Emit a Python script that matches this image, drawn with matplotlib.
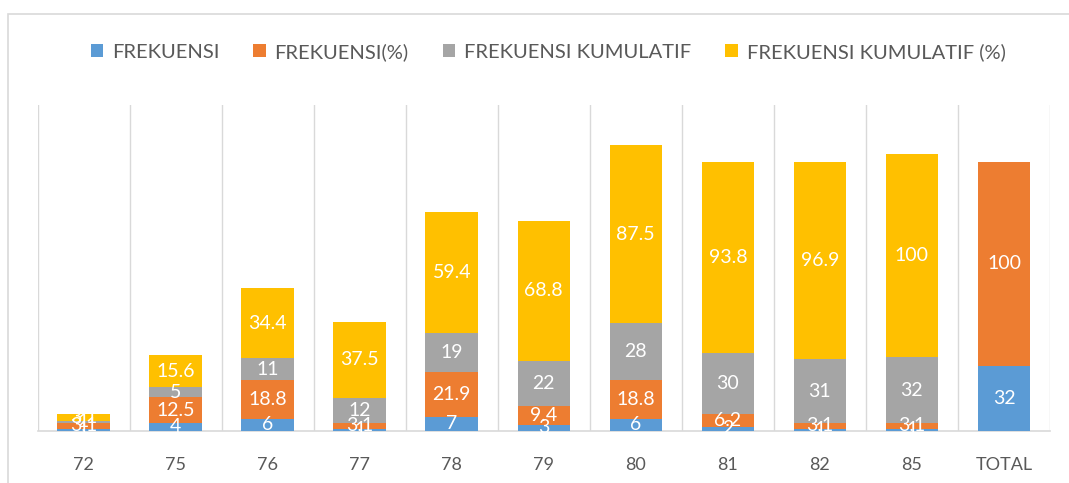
import matplotlib
matplotlib.use("Agg")
import matplotlib.pyplot as plt
import numpy as np

categories = ["72", "75", "76", "77", "78", "79", "80", "81", "82", "85", "TOTAL"]
frekuensi = [1, 4, 6, 1, 7, 3, 6, 2, 1, 1, 32]
frekuensi_pct = [3.1, 12.5, 18.8, 3.1, 21.9, 9.4, 18.8, 6.2, 3.1, 3.1, 100]
kumulatif = [1, 5, 11, 12, 19, 22, 28, 30, 31, 32, 0]
kumulatif_pct = [3.1, 15.6, 34.4, 37.5, 59.4, 68.8, 87.5, 93.8, 96.9, 100, 0]

series = [
    ("FREKUENSI", frekuensi, "#5B9BD5"),
    ("FREKUENSI(%)", frekuensi_pct, "#ED7D31"),
    ("FREKUENSI KUMULATIF", kumulatif, "#A5A5A5"),
    ("FREKUENSI KUMULATIF (%)", kumulatif_pct, "#FFC000"),
]

plt.rcParams['font.family'] = ['Lato', 'DejaVu Sans']

fig = plt.figure(figsize=(10.69, 4.83), dpi=100)
ax = fig.add_axes([37.5 / 1069, (483 - 431) / 483, (1050 - 37.5) / 1069, (431 - 105) / 483])

x = np.arange(len(categories))
bottom = np.zeros(len(categories))
width = 0.57
for name, vals, color in series:
    vals = np.array(vals, dtype=float)
    ax.bar(x, vals, width, bottom=bottom, color=color, label=name, zorder=3)
    for xi, v, b in zip(x, vals, bottom):
        if v > 0:
            ax.text(xi, b + v / 2, f"{v:g}", ha="center", va="center", color="white",
                    fontsize=14, zorder=4)
    bottom += vals

ax.set_xlim(-0.5, len(categories) - 0.5)
ax.set_ylim(0, 160)
ax.set_xticks(x)
ax.set_xticklabels(categories, fontsize=13, color="#595959")
ax.tick_params(axis="x", length=0, pad=19)
ax.set_yticks([])
for b in np.arange(-0.5, len(categories) + 0.5, 1):
    ax.axvline(b, color="#D9D9D9", lw=1, zorder=1)
for s in ["top", "left", "right"]:
    ax.spines[s].set_visible(False)
ax.spines["bottom"].set_color("#D9D9D9")
ax.spines["bottom"].set_linewidth(1.2)

fig.legend(loc="center", bbox_to_anchor=(548 / 1069, 1 - 52 / 483), ncol=4,
           frameon=False, fontsize=14.5, handlelength=0.6, handleheight=0.6,
           columnspacing=1.7, handletextpad=0.45, labelcolor="#595959")

fig.patches.append(plt.Rectangle((8 / 1069, -0.01), 1.02, 1 - 14 / 483 + 0.01,
                                 transform=fig.transFigure, fill=False,
                                 edgecolor="#D9D9D9", lw=1.2))

fig.savefig("out.png", dpi=100)
